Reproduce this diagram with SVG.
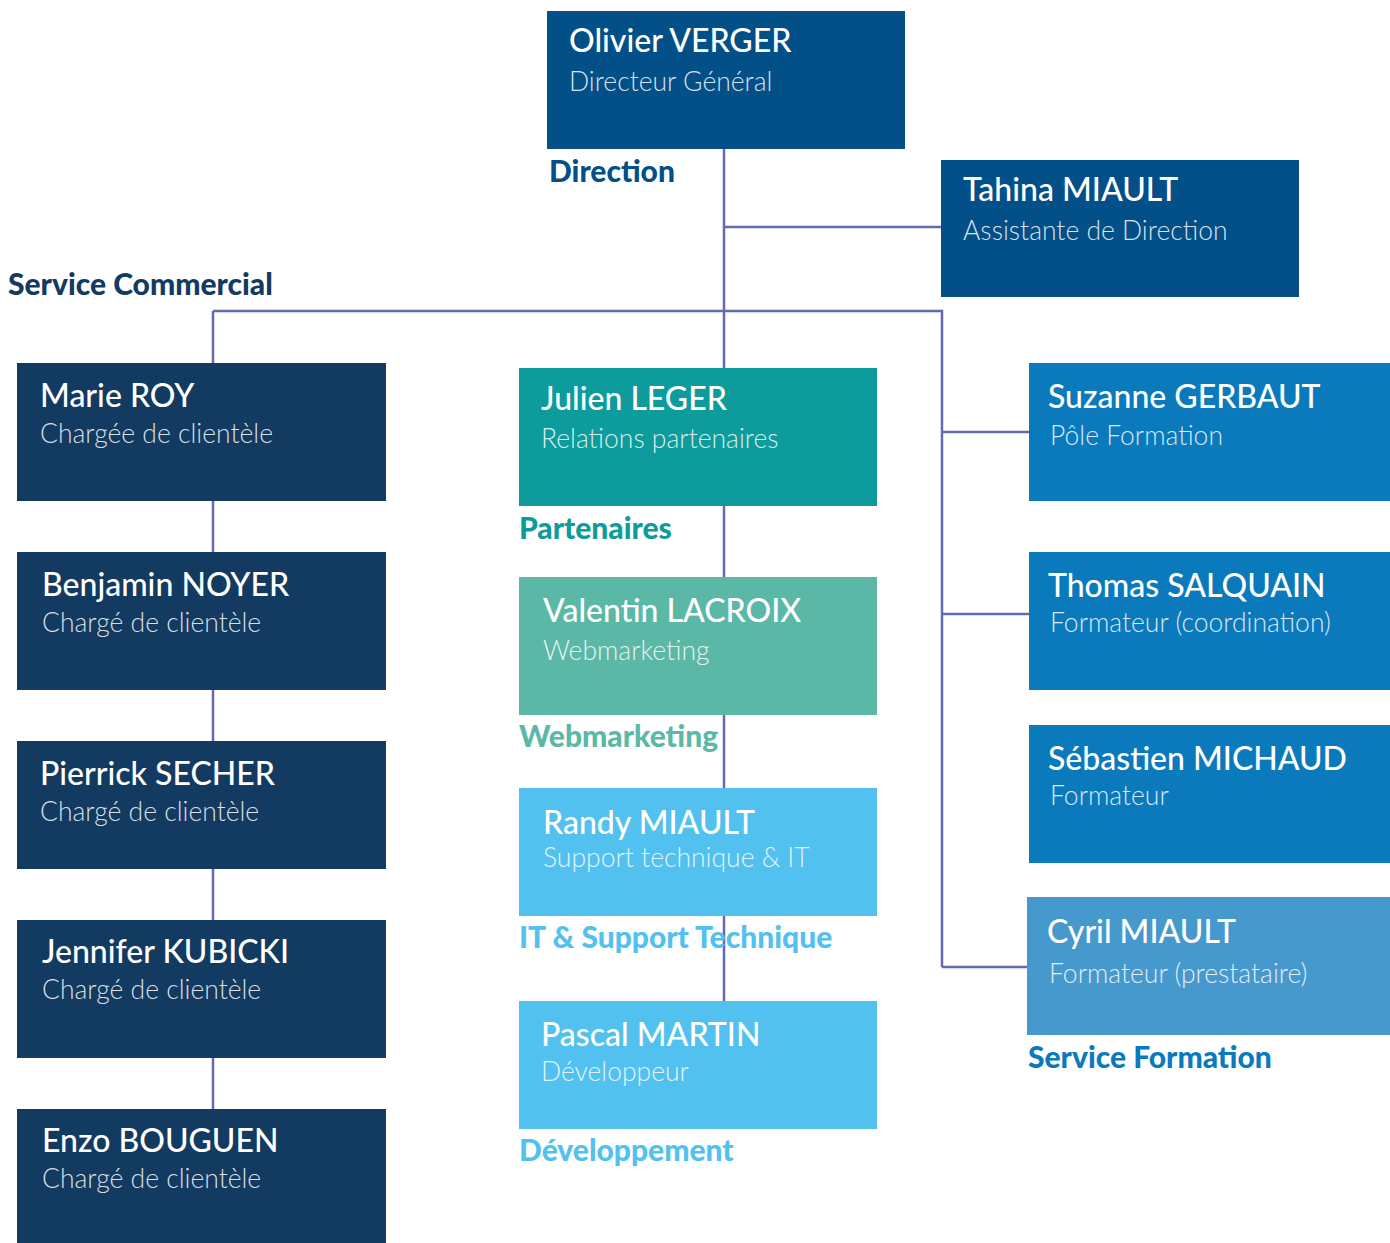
<svg xmlns="http://www.w3.org/2000/svg" width="1390" height="1243" viewBox="0 0 1390 1243">
<style>
.name{font-family:Lato,"Open Sans","Liberation Sans",sans-serif;font-size:32px;font-weight:500;fill:#ffffff}
.sub{font-family:Lato,"Open Sans","Liberation Sans",sans-serif;font-size:26.5px;font-weight:300;fill:#ffffff;fill-opacity:0.85}
.lbl{font-family:Lato,"Open Sans","Liberation Sans",sans-serif;font-size:30px;font-weight:900}
.ln{stroke:#6469b2;stroke-width:2.5;fill:none}
</style>
<rect width="1390" height="1243" fill="#ffffff"/>
<g id="connectors">
<path class="ln" d="M724 149 V368 M724 227 H941 M213 311 H942 V967 M213 311 V363 M942 432 H1029 M942 614 H1029 M942 967 H1027"/>
<path class="ln" d="M213 501 V552 M213 690 V741 M213 869 V920 M213 1058 V1109"/>
<path class="ln" d="M724 506 V577 M724 715 V788 M724 916 V1001"/>
</g>
<g id="olivier"><rect x="547" y="11" width="358" height="138" fill="#034f87"/><text class="name" x="569" y="52">Olivier VERGER</text><text class="sub" x="569" y="91">Directeur Général</text></g>
<g id="tahina"><rect x="941" y="160" width="358" height="137" fill="#034f87"/><text class="name" x="963" y="201">Tahina MIAULT</text><text class="sub" x="963" y="240">Assistante de Direction</text></g>
<g id="marie"><rect x="17" y="363" width="369" height="138" fill="#133a61"/><text class="name" x="40" y="407">Marie ROY</text><text class="sub" x="40" y="443">Chargée de clientèle</text></g>
<g id="benjamin"><rect x="17" y="552" width="369" height="138" fill="#133a61"/><text class="name" x="42" y="596">Benjamin NOYER</text><text class="sub" x="42" y="632">Chargé de clientèle</text></g>
<g id="pierrick"><rect x="17" y="741" width="369" height="128" fill="#133a61"/><text class="name" x="40" y="785">Pierrick SECHER</text><text class="sub" x="40" y="821">Chargé de clientèle</text></g>
<g id="jennifer"><rect x="17" y="920" width="369" height="138" fill="#133a61"/><text class="name" x="42" y="963">Jennifer KUBICKI</text><text class="sub" x="42" y="999">Chargé de clientèle</text></g>
<g id="enzo"><rect x="17" y="1109" width="369" height="134" fill="#133a61"/><text class="name" x="42" y="1152">Enzo BOUGUEN</text><text class="sub" x="42" y="1188">Chargé de clientèle</text></g>
<g id="julien"><rect x="519" y="368" width="358" height="138" fill="#0d9b9b"/><text class="name" x="541" y="410">Julien LEGER</text><text class="sub" x="541" y="448">Relations partenaires</text></g>
<g id="valentin"><rect x="519" y="577" width="358" height="138" fill="#5bb8a6"/><text class="name" x="543" y="622">Valentin LACROIX</text><text class="sub" x="543" y="660">Webmarketing</text></g>
<g id="randy"><rect x="519" y="788" width="358" height="128" fill="#52c1f0"/><text class="name" x="543" y="834">Randy MIAULT</text><text class="sub" x="543" y="867">Support technique &amp; IT</text></g>
<g id="pascal"><rect x="519" y="1001" width="358" height="128" fill="#52c1f0"/><text class="name" x="541" y="1046">Pascal MARTIN</text><text class="sub" x="541" y="1081">Développeur</text></g>
<g id="suzanne"><rect x="1029" y="363" width="361" height="138" fill="#0a7abd"/><text class="name" x="1048" y="408">Suzanne GERBAUT</text><text class="sub" x="1050" y="445">Pôle Formation</text></g>
<g id="thomas"><rect x="1029" y="552" width="361" height="138" fill="#0a7abd"/><text class="name" x="1048" y="597">Thomas SALQUAIN</text><text class="sub" x="1050" y="632">Formateur (coordination)</text></g>
<g id="sebastien"><rect x="1029" y="725" width="361" height="138" fill="#0a7abd"/><text class="name" x="1048" y="770">Sébastien MICHAUD</text><text class="sub" x="1050" y="805">Formateur</text></g>
<g id="cyril"><rect x="1027" y="897" width="363" height="138" fill="#4699cc"/><text class="name" x="1047" y="943">Cyril MIAULT</text><text class="sub" x="1049" y="983">Formateur (prestataire)</text></g>
<g id="labels">
<text class="lbl" x="549" y="182" fill="#034f87">Direction</text>
<text class="lbl" x="8" y="295" fill="#133a61">Service Commercial</text>
<text class="lbl" x="519" y="539" fill="#0d9b9b">Partenaires</text>
<text class="lbl" x="519" y="747" fill="#5bb8a6">Webmarketing</text>
<text class="lbl" x="519" y="948" fill="#52c1f0">IT &amp; Support Technique</text>
<text class="lbl" x="519" y="1161" fill="#52c1f0">Développement</text>
<text class="lbl" x="1028" y="1068" fill="#0a7abd">Service Formation</text>
</g>
</svg>
